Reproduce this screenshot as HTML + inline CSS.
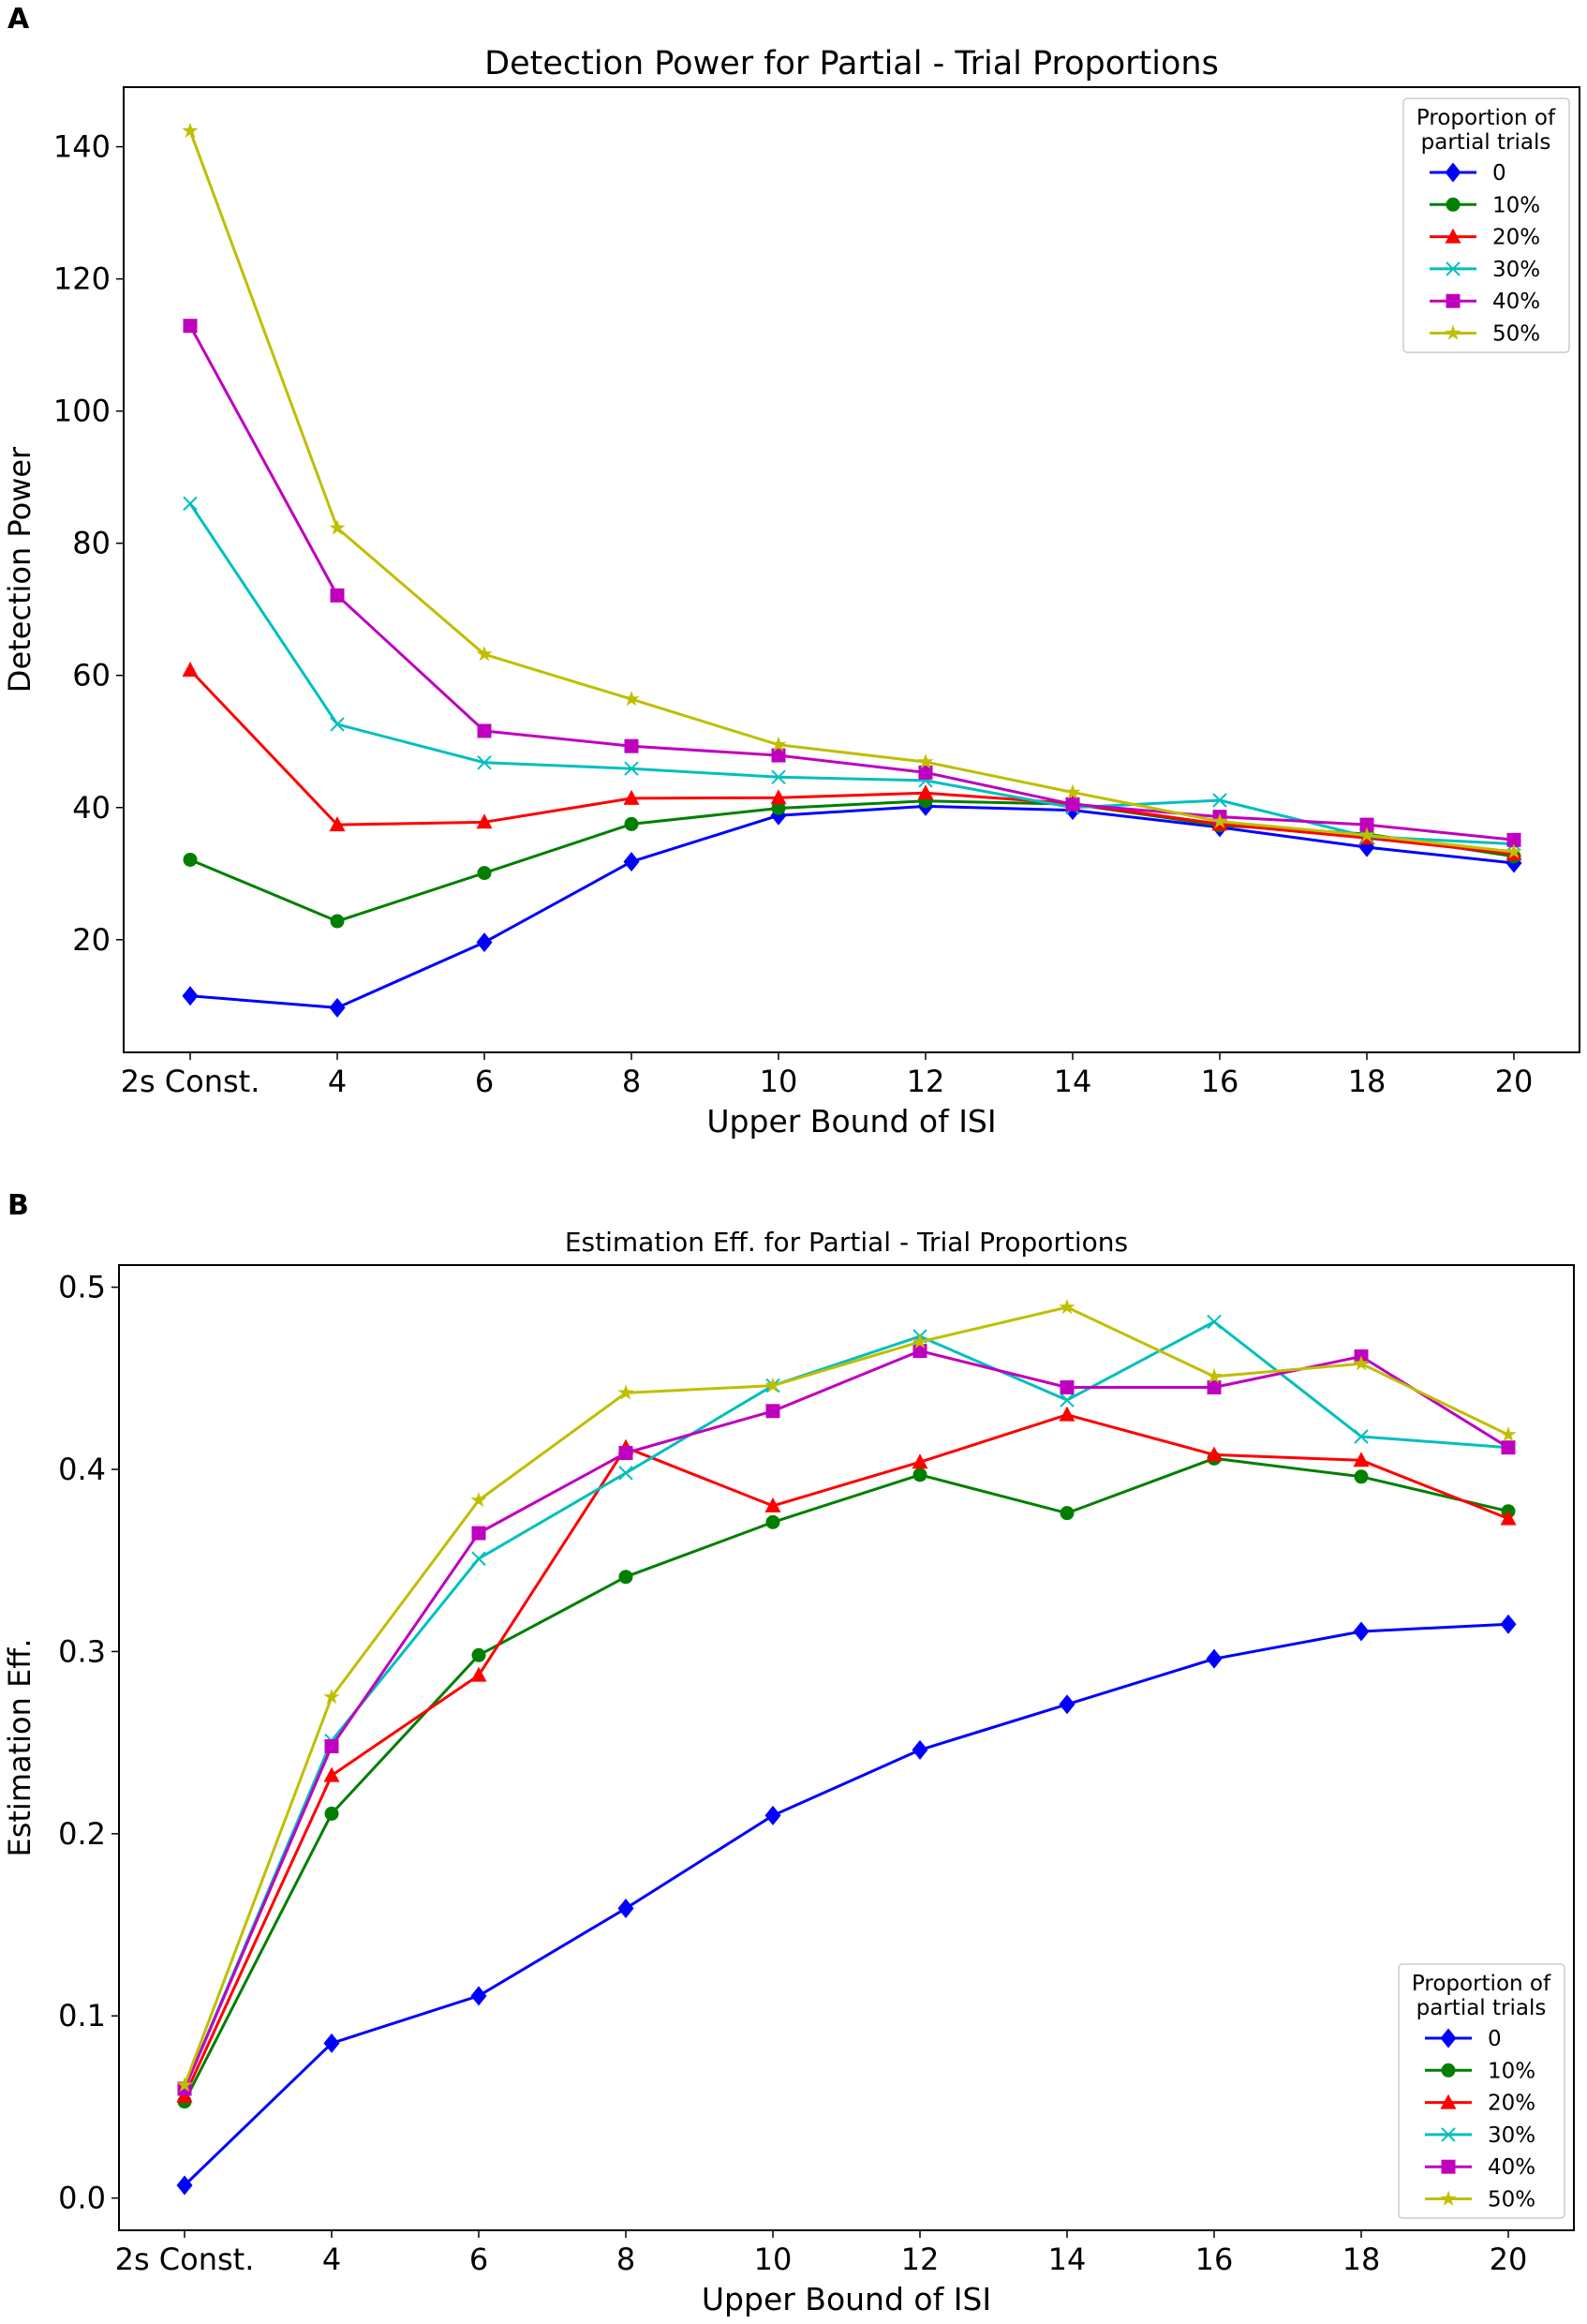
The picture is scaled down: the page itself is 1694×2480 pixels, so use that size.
<!DOCTYPE html>
<html><head><meta charset="utf-8">
<style>
html,body{margin:0;padding:0;background:#fff;}
svg{display:block;}
text{font-family:"Liberation Sans Narrow","Liberation Sans",sans-serif;fill:#000;}
.dv{font-family:"DejaVu Sans","Liberation Sans",sans-serif;}
</style></head>
<body>
<svg id="fig" width="1694" height="2480" viewBox="0 0 1694 2480" xmlns="http://www.w3.org/2000/svg"></svg>
<script>
const categories = ["2s Const.","4","6","8","10","12","14","16","18","20"];
const seriesNames = ["0","10%","20%","30%","40%","50%"];
const seriesColors = ["#0000ff","#007f00","#ff0000","#00bfbf","#bf00bf","#bfbf00"];
const seriesMarkers = ["diamond","circle","triangle","x","square","star"];
const powerTicks = [20,40,60,80,100,120,140];
const effTicks = [0.0,0.1,0.2,0.3,0.4,0.5];
const power0 = [11.5,9.7,19.6,31.8,38.8,40.2,39.6,37.0,34.0,31.6];
const power10 = [32.1,22.8,30.1,37.5,39.9,41.0,40.5,37.3,36.0,32.6];
const power20 = [60.8,37.4,37.8,41.4,41.5,42.2,40.6,37.5,35.4,33.0];
const power30 = [86.0,52.6,46.8,45.9,44.6,44.1,40.0,41.1,35.6,34.5];
const power40 = [112.9,72.1,51.6,49.3,47.9,45.3,40.5,38.6,37.4,35.1];
const power50 = [142.4,82.3,63.2,56.4,49.5,46.9,42.3,37.9,35.8,33.3];
const eff0 = [0.007,0.085,0.111,0.159,0.210,0.246,0.271,0.296,0.311,0.315];
const eff10 = [0.053,0.211,0.298,0.341,0.371,0.397,0.376,0.406,0.396,0.377];
const eff20 = [0.056,0.232,0.287,0.412,0.380,0.404,0.430,0.408,0.405,0.373];
const eff30 = [0.060,0.251,0.351,0.398,0.446,0.473,0.438,0.481,0.418,0.412];
const eff40 = [0.060,0.248,0.365,0.409,0.432,0.465,0.445,0.445,0.462,0.412];
const eff50 = [0.062,0.275,0.383,0.442,0.446,0.470,0.489,0.451,0.458,0.419];

const NS="http://www.w3.org/2000/svg";
const svg=document.getElementById('fig');
function mk(tag,attrs,parent){const e=document.createElementNS(NS,tag);for(const k in attrs)e.setAttribute(k,attrs[k]);(parent||svg).appendChild(e);return e;}
function txt(s,attrs,parent){const e=mk('text',attrs,parent);e.textContent=s;return e;}

function marker(g,type,x,y,c){
  let e;const r=8.5;
  if(type==='diamond'){e=mk('polygon',{points:`${x},${y-r-2} ${x+r},${y} ${x},${y+r+2} ${x-r},${y}`,fill:c},g);}
  else if(type==='circle'){e=mk('circle',{cx:x,cy:y,r:7.5,fill:c},g);}
  else if(type==='triangle'){e=mk('polygon',{points:`${x},${y-9} ${x+8.5},${y+7} ${x-8.5},${y+7}`,fill:c},g);}
  else if(type==='x'){e=mk('path',{d:`M${x-7},${y-7}L${x+7},${y+7}M${x-7},${y+7}L${x+7},${y-7}`,stroke:c,'stroke-width':2,fill:'none'},g);}
  else if(type==='square'){e=mk('rect',{x:x-7.5,y:y-7.5,width:15,height:15,fill:c},g);}
  else {let p=[];for(let i=0;i<10;i++){const a=-Math.PI/2+i*Math.PI/5;const rr=i%2?3.5:9;p.push((x+rr*Math.cos(a)).toFixed(1)+','+(y+rr*Math.sin(a)).toFixed(1));}e=mk('polygon',{points:p.join(' '),fill:c},g);}
  
  
}

function drawChart(cfg){
  const g=mk('g',{});
  
  
  const xs=i=>cfg.x0+i*(cfg.x1-cfg.x0)/(categories.length-1);
  const ys=v=>cfg.yA+(v-cfg.vA)*(cfg.yB-cfg.yA)/(cfg.vB-cfg.vA);
  const p=txt(cfg.panel,{x:cfg.panelX,y:cfg.panelY,'font-size':30,'font-weight':'bold',class:'dv'},g);
  
  const t=txt(cfg.title,{x:(cfg.L+cfg.R)/2,y:cfg.titleY,'font-size':cfg.titleSize,'text-anchor':'middle',class:'dv'},g);
  
  cfg.ticks.forEach(v=>{
    const y=ys(v);
    mk('line',{x1:cfg.L-8,x2:cfg.L,y1:y,y2:y,stroke:'#000','stroke-width':1.5},g);
    const l=txt(cfg.fmt(v),{x:cfg.L-14,y:y+11,'font-size':32,'text-anchor':'end',class:'dv'},g);
    
  });
  categories.forEach((c,i)=>{
    const x=xs(i);
    mk('line',{x1:x,x2:x,y1:cfg.B,y2:cfg.B+8,stroke:'#000','stroke-width':1.5},g);
    const l=txt(c,{x:x,y:cfg.B+42,'font-size':32,'text-anchor':'middle',class:'dv'},g);
    
  });
  const xl=txt('Upper Bound of ISI',{x:(cfg.L+cfg.R)/2,y:cfg.B+85,'font-size':33,'text-anchor':'middle',class:'dv'},g);
  
  const yl=txt(cfg.ylabel,{x:0,y:0,'font-size':32,'text-anchor':'middle',class:'dv',transform:`translate(${cfg.ylx},${(cfg.T+cfg.B)/2}) rotate(-90)`},g);
  
  cfg.data.forEach((arr,s)=>{
    const sg=mk('g',{},g);
    
    
    const pts=arr.map((v,i)=>xs(i).toFixed(1)+','+ys(v).toFixed(1)).join(' ');
    mk('polyline',{points:pts,fill:'none',stroke:seriesColors[s],'stroke-width':3,'stroke-linejoin':'round'},sg);
    arr.forEach((v,i)=>marker(sg,seriesMarkers[s],xs(i),ys(v),seriesColors[s]));
  });
  const frame=mk('rect',{x:cfg.L,y:cfg.T,width:cfg.R-cfg.L,height:cfg.B-cfg.T,fill:'none',stroke:'#000','stroke-width':2},g);
  
  const lg=mk('g',{},g);
  
  mk('rect',{x:cfg.lx,y:cfg.ly,width:177,height:271,rx:4,fill:'#fff',stroke:'#ccc','stroke-width':1.5},lg);
  txt('Proportion of',{x:cfg.lx+88,y:cfg.ly+28,'font-size':23,'text-anchor':'middle',class:'dv'},lg);
  txt('partial trials',{x:cfg.lx+88,y:cfg.ly+54,'font-size':23,'text-anchor':'middle',class:'dv'},lg);
  seriesNames.forEach((n,s)=>{
    const y=cfg.ly+79+s*34.3;
    const eg=mk('g',{},lg);
    
    mk('line',{x1:cfg.lx+28,x2:cfg.lx+78,y1:y,y2:y,stroke:seriesColors[s],'stroke-width':3},eg);
    marker(eg,seriesMarkers[s],cfg.lx+53,y,seriesColors[s]);
    txt(n,{x:cfg.lx+95,y:y+8,'font-size':23,class:'dv'},eg);
  });
}

drawChart({name:'detection-power-chart',panel:'A',panelX:8,panelY:30,title:'Detection Power for Partial - Trial Proportions',titleY:79,titleSize:35,
  L:132,R:1686,T:93,B:1123,x0:203,x1:1616,yA:1002.8,vA:20,yB:156.6,vB:140,
  ticks:powerTicks,fmt:v=>String(v),ylabel:'Detection Power',ylx:32,
  data:[power0,power10,power20,power30,power40,power50],lx:1498,ly:105});
drawChart({name:'estimation-efficiency-chart',panel:'B',panelX:8,panelY:1296,title:'Estimation Eff. for Partial - Trial Proportions',titleY:1335,titleSize:28,
  L:127,R:1680,T:1350,B:2380,x0:197,x1:1610,yA:2345.6,vA:0,yB:1373.6,vB:0.5,
  ticks:effTicks,fmt:v=>v.toFixed(1),ylabel:'Estimation Eff.',ylx:32,
  data:[eff0,eff10,eff20,eff30,eff40,eff50],lx:1493,ly:2096});
</script>
</body></html>
